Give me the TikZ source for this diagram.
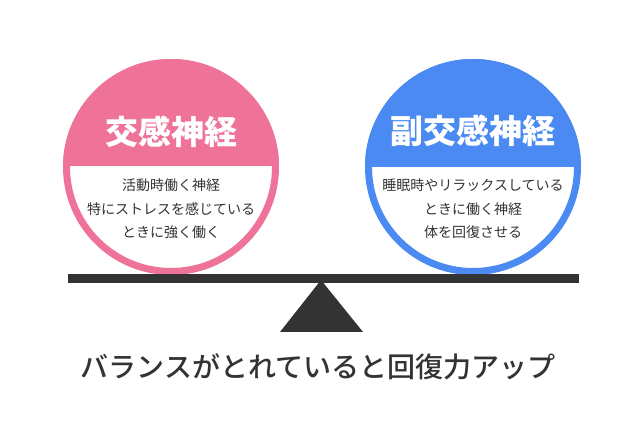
\documentclass[tikz,border=0pt]{standalone}
\usepackage{fontspec}
\newfontfamily\jp{Noto Sans CJK JP}
\newfontfamily\jpm{Noto Sans CJK JP Medium}
\definecolor{pinkc}{HTML}{EF7399}
\definecolor{bluec}{HTML}{4B8AF2}
\definecolor{darkc}{HTML}{333333}
\begin{document}
\begin{tikzpicture}[x=1pt,y=-1pt,
  title/.style={font=\jp\bfseries\fontsize{33}{36}\selectfont, text=white, inner sep=0},
  body/.style={font=\jp\fontsize{14}{23.5}\selectfont, text=darkc, align=center, inner sep=0},
  caption/.style={font=\jpm\fontsize{28}{30}\selectfont, text=darkc, inner sep=0}]
\useasboundingbox (0,0) rectangle (640,427);
\fill[white] (0,0) rectangle (640,427);
% left circle
\begin{scope}
  \clip (171,167) circle (108);
  \fill[white] (171,167) circle (108);
  \fill[pinkc] (60,50) rectangle (290,166);
\end{scope}
\draw[pinkc, line width=7] (171,167) circle (104.5);
% right circle
\begin{scope}
  \clip (473,167) circle (108);
  \fill[white] (473,167) circle (108);
  \fill[bluec] (360,50) rectangle (590,167);
\end{scope}
\draw[bluec, line width=7] (473,167) circle (104.5);
% titles
\node[title] (lt) at (171,132) {交感神経};
\node[title] (rt) at (473,131) {副交感神経};
\node[body] (lb) at (171,209) {活動時働く神経\\特にストレスを感じている\\ときに強く働く};
\node[body] (rb) at (473,209) {睡眠時やリラックスしている\\ときに働く神経\\体を回復させる};
% seesaw
\fill[darkc] (68,274) rectangle (579,283);
\fill[darkc] (321,280) -- (363,332) -- (280,332) -- cycle;
\node[caption] (cap) at (318,367) {バランスがとれていると回復力アップ};
\end{tikzpicture}
\end{document}
